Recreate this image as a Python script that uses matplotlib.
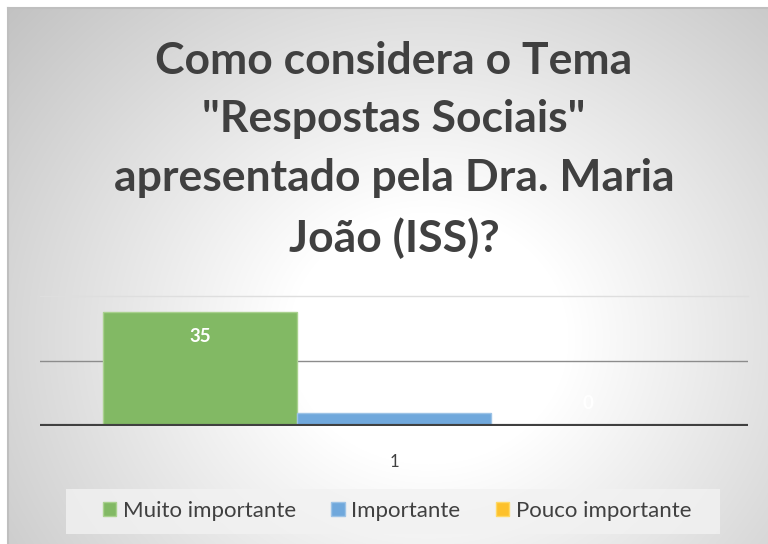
#!/usr/bin/env python3

""" Bar chart: Como considera o Tema "Respostas Sociais" """

import numpy as np
import matplotlib.pyplot as plt

categories = ['1']
series = ['Muito importante', 'Importante', 'Pouco importante']
values = [35, 4, 0]
colours = ['#82b964', '#70a8dc', '#fdc12b']
edges = ['#a9d18e', '#9dc3e6', '#ffd966']
title = 'Como considera o Tema\n"Respostas Sociais"\napresentado pela Dra. Maria\nJoão (ISS)?'

W, H = 768, 544
plt.rcParams['font.family'] = ['Lato', 'DejaVu Sans']

fig = plt.figure(figsize=(W / 100, H / 100), dpi=100)

# Radial gradient background of the chart area
bg = fig.add_axes([8 / W, 0, 1 - 8 / W, 1 - 8 / H])
yy, xx = np.mgrid[0:H - 8, 0:W - 8]
r = np.hypot((xx - 420) / 1.0, (yy - 330) / 0.9)
shade = np.clip((r - 140) / 420, 0, 1)
g = 1 - 0.24 * shade
bg.imshow(np.dstack([g, g, g]), aspect='auto', extent=[0, 1, 0, 1])
bg.set_axis_off()
fig.add_artist(plt.Line2D([8 / W, 1], [1 - 8 / H, 1 - 8 / H],
                          color='#bfbfbf', lw=1.5))
fig.add_artist(plt.Line2D([8 / W, 8 / W], [0, 1 - 8 / H],
                          color='#bfbfbf', lw=1.5))

ax = fig.add_axes([40 / W, 118 / H, 708 / W, 130 / H])
ax.set_facecolor('none')
width = 0.274
offsets = [-width, 0, width]
for name, val, off, c, e in zip(series, values, offsets, colours, edges):
    ax.bar(off, val, width, color=c, edgecolor=e, linewidth=1, label=name,
           zorder=2)
    ax.text(off, val - 7.5 if val > 10 else 7, str(val), ha='center',
            va='center', color='white', fontsize=13.5, fontweight='bold',
            zorder=3)

ax.set_xlim(-0.5, 0.5)
ax.set_ylim(0, 40)
ax.axhline(20, color='#8c8c8c', lw=1, zorder=1)
ax.axhline(40, color='#dedede', lw=1, zorder=1, clip_on=False)
ax.axhline(0, color='#404040', lw=3, zorder=4)
for s in ax.spines.values():
    s.set_visible(False)
ax.set_yticks([])
ax.set_xticks([0])
ax.set_xticklabels(categories, fontsize=12, color='#404040')
ax.tick_params(axis='x', length=0, pad=20)

fig.text(394 / W, 1 - 150 / H, title, ha='center', va='center',
         fontsize=32, fontweight='bold', color='#404040', linespacing=1.56)

# legend background box
fig.add_artist(plt.Rectangle((66 / W, 1 - 534 / H), 654 / W, 45 / H,
                             transform=fig.transFigure, facecolor='#f2f2f2',
                             edgecolor='none', alpha=0.8))
leg = fig.legend(loc='center', bbox_to_anchor=(397 / W, 1 - 511 / H),
                 ncol=3, frameon=False, fontsize=16, handlelength=0.6,
                 handleheight=0.6, handletextpad=0.3, columnspacing=1.6,
                 borderpad=0.55, borderaxespad=0)
for t in leg.get_texts():
    t.set_color('#404040')

fig.savefig('out.png', dpi=100)
